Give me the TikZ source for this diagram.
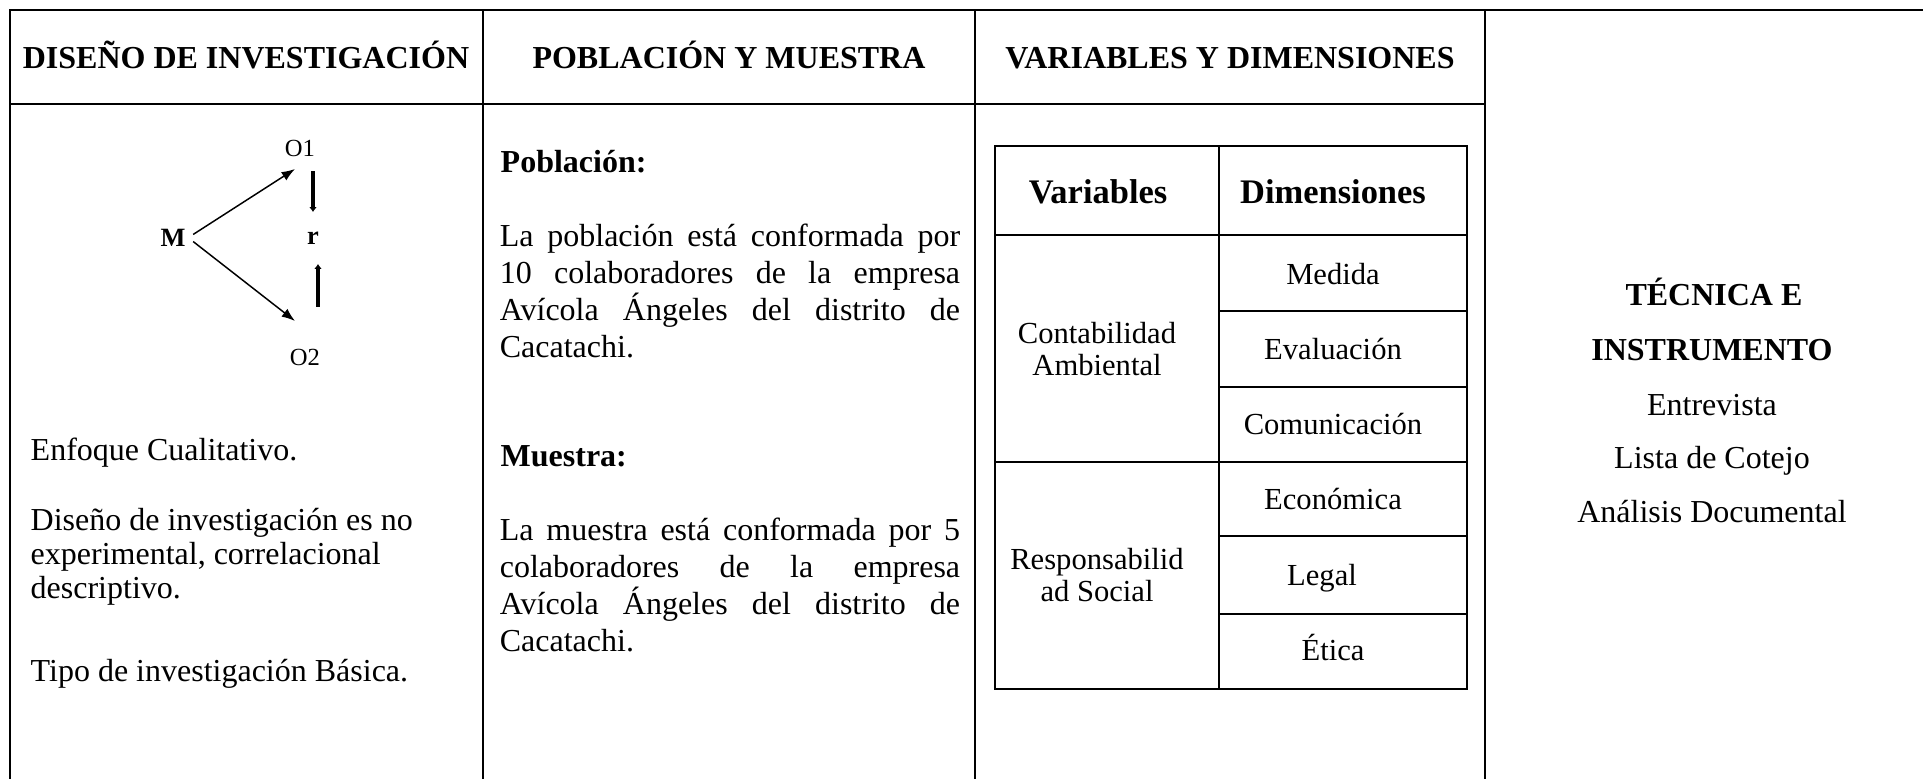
\documentclass[tikz,border=0pt]{standalone}
\usepackage{fontspec}
\setmainfont{Liberation Serif}
\usetikzlibrary{arrows.meta,calc}
\tikzstyle{gridline}=[draw,line width=0.57pt]
\tikzstyle{oneline}=[text height=0.7em,text depth=0.2em]
\tikzstyle{headtxt}=[font=\fontsize{9.1pt}{10.5pt}\selectfont\bfseries]
\tikzstyle{bodytxt}=[font=\fontsize{9.1pt}{10.5pt}\selectfont]
\tikzstyle{cellhead}=[font=\fontsize{9.8pt}{11pt}\selectfont\bfseries,oneline]
\tikzstyle{celltxt}=[font=\fontsize{8.7pt}{9.3pt}\selectfont,align=center]
\tikzstyle{dimtxt}=[celltxt,oneline]
\tikzstyle{obstxt}=[font=\fontsize{7pt}{8pt}\selectfont,inner sep=2pt]
\tikzstyle{diagarrow}=[draw,line width=0.42pt,-{Latex[length=3.8pt,width=2.8pt]}]
\tikzstyle{relarrow}=[draw,line width=0.95pt,-{Latex[length=1.4pt,width=2.2pt]}]
\tikzstyle{para}=[bodytxt,align=justify,text width=4.6cm,inner sep=0pt]

\begin{document}
\begin{tikzpicture}[x=0.01cm,y=-0.01cm]
    \useasboundingbox (0,0) rectangle (1923,779);

    % outer grid of the matrix
    \draw[gridline] (10,779) -- (10,10) -- (1923,10);
    \draw[gridline] (10,104) -- (1485,104);
    \foreach \x in {483,975,1485}
        \draw[gridline] (\x,10) -- (\x,779);

    % column titles
    \foreach \pos/\name/\txt in {{(246,60)/hdis/DISEÑO DE INVESTIGACIÓN},
        {(729,60)/hpob/POBLACIÓN Y MUESTRA},{(1230,60)/hvar/VARIABLES Y DIMENSIONES}}
        \node[headtxt,oneline] (\name) at \pos {\txt};

    % design scheme
    \node[obstxt] (O1) at (300,148) {O1};
    \node[obstxt] (O2) at (305,357) {O2};
    \node[obstxt,font=\fontsize{7.5pt}{8pt}\selectfont\bfseries] (M) at (173,238) {M};
    \node[obstxt,font=\fontsize{7.5pt}{8pt}\selectfont\bfseries] (r) at (313,238) {r};
    \path[diagarrow] (M.10) -- ($(O1.south)+(-5,5)$);
    \path[diagarrow] (M.-10) -- ($(O2.north)+(-10,-20)$);
    \path[relarrow] ($(O1.south)+(13,7)$) -- ($(r.north)+(0,-12)$);
    \path[relarrow] ($(O2.north)+(13,-34)$) -- ($(r.south)+(5,12)$);

    \node[bodytxt,oneline,anchor=west,inner sep=0pt] (enf) at (30,452) {Enfoque Cualitativo.};
    \node[bodytxt,anchor=west,align=left,inner sep=0pt,
        font=\fontsize{9.1pt}{9.7pt}\selectfont] (dis) at (30,557)
        {Diseño de investigación es no\\experimental, correlacional\\descriptivo.};
    \node[bodytxt,oneline,anchor=west,inner sep=0pt] (tipo) at (30,673) {Tipo de investigación Básica.};

    % population and sample
    \node[headtxt,oneline,anchor=west,inner sep=0pt] (pob) at (500,164) {Población:};
    \node[para] (pobtxt) at (730,291) {La población está conformada por\linebreak 10 colaboradores de la empresa\linebreak Avícola Ángeles del distrito de\linebreak Cacatachi.};
    \node[headtxt,oneline,anchor=west,inner sep=0pt] (mue) at (500,458) {Muestra:};
    \node[para] (muetxt) at (730,585) {La muestra está conformada por 5\linebreak colaboradores de la empresa\linebreak Avícola Ángeles del distrito de\linebreak Cacatachi.};

    % variables table
    \draw[gridline] (995,146) rectangle (1467,689);
    \draw[gridline] (1219,146) -- (1219,689);
    \foreach \y in {235,462}
        \draw[gridline] (995,\y) -- (1467,\y);
    \foreach \y in {311,387,536,614}
        \draw[gridline] (1219,\y) -- (1467,\y);
    \node[cellhead] (tvar) at (1098,195) {Variables};
    \node[cellhead] (tdim) at (1333,195) {Dimensiones};
    \node[celltxt] (cont) at (1097,349) {Contabilidad\\Ambiental};
    \node[celltxt] (resp) at (1097,575) {Responsabilid\\ad Social};
    \foreach \pos/\name/\txt in {{(1333,276)/med/Medida},{(1333,351)/eva/Evaluación},
        {(1333,426)/com/Comunicación},{(1333,501)/eco/Económica},
        {(1322,577)/leg/Legal},{(1333,652)/eti/Ética}}
        \node[dimtxt] (\name) at \pos {\txt};

    % technique and instrument
    \node[headtxt,oneline] (tec) at (1714,297) {TÉCNICA E};
    \node[headtxt,oneline] (ins) at (1712,352) {INSTRUMENTO};
    \foreach \pos/\name/\txt in {{(1712,407)/ent/Entrevista},{(1712,460)/lis/Lista de Cotejo},
        {(1712,514)/ana/Análisis Documental}}
        \node[bodytxt,oneline] (\name) at \pos {\txt};
\end{tikzpicture}
\end{document}
